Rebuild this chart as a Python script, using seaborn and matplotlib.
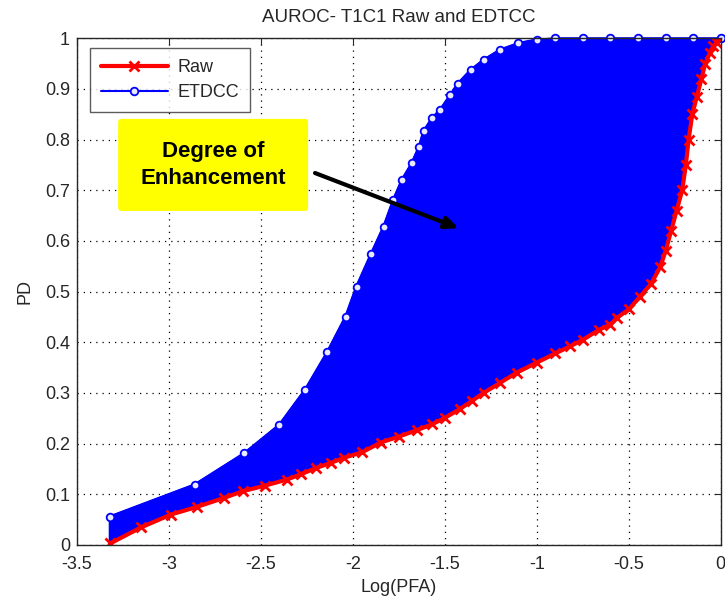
import matplotlib
matplotlib.use("Agg")
import matplotlib.pyplot as plt
import seaborn as sns
import pandas as pd

# ---- data ----
raw_x = [-3.32, -3.15, -2.99, -2.85, -2.70, -2.60, -2.48, -2.36, -2.28, -2.20,
         -2.12, -2.05, -1.95, -1.85, -1.75, -1.65, -1.57, -1.50, -1.42, -1.35,
         -1.29, -1.20, -1.11, -1.00, -0.90, -0.82, -0.75, -0.66, -0.60, -0.566,
         -0.50, -0.44, -0.38, -0.33, -0.30, -0.27, -0.24, -0.21, -0.19, -0.175,
         -0.155, -0.13, -0.105, -0.085, -0.06, -0.04, -0.02, -0.01]
raw_y = [0.003, 0.035, 0.060, 0.075, 0.093, 0.106, 0.117, 0.129, 0.140, 0.152,
         0.162, 0.172, 0.183, 0.202, 0.214, 0.227, 0.238, 0.251, 0.268, 0.285,
         0.300, 0.320, 0.340, 0.360, 0.378, 0.392, 0.405, 0.425, 0.435, 0.448,
         0.465, 0.490, 0.515, 0.548, 0.580, 0.620, 0.660, 0.700, 0.750, 0.800,
         0.850, 0.885, 0.920, 0.950, 0.970, 0.985, 0.990, 1.000]

etdcc_x = [-3.32, -2.86, -2.59, -2.40, -2.26, -2.14, -2.04, -1.98, -1.90, -1.833,
           -1.78, -1.734, -1.68, -1.64, -1.616, -1.57, -1.525, -1.47, -1.43, -1.36,
           -1.29, -1.20, -1.10, -1.00, -0.90, -0.75, -0.60, -0.45, -0.30, -0.15, 0.0]
etdcc_y = [0.056, 0.119, 0.181, 0.237, 0.306, 0.380, 0.450, 0.510, 0.575, 0.628,
           0.681, 0.720, 0.753, 0.786, 0.816, 0.842, 0.859, 0.888, 0.910, 0.937,
           0.957, 0.977, 0.990, 0.997, 1.000, 1.000, 1.000, 1.000, 1.000, 1.000, 1.000]

x_ticks = [-3.5, -3, -2.5, -2, -1.5, -1, -0.5, 0]
x_tick_labels = ["-3.5", "-3", "-2.5", "-2", "-1.5", "-1", "-0.5", "0"]
y_ticks = [0, 0.1, 0.2, 0.3, 0.4, 0.5, 0.6, 0.7, 0.8, 0.9, 1]
y_tick_labels = ["0", "0.1", "0.2", "0.3", "0.4", "0.5", "0.6", "0.7", "0.8", "0.9", "1"]

title = "AUROC- T1C1 Raw and EDTCC"
annot_text = "Degree of\nEnhancement"

# ---- style ----
sns.set_style("white")
plt.rcParams["font.family"] = ["Liberation Sans", "DejaVu Sans"]

fig = plt.figure(figsize=(7.25, 6.04), dpi=100)
ax = fig.add_axes([0.1062, 0.0977, 0.888, 0.839])

blue = "#0000ff"
red = "#ff0000"
txt = "#262626"

# filled area between the family of ETDCC curves and raw
ax.fill(etdcc_x + raw_x[::-1], etdcc_y + raw_y[::-1], color=blue, lw=2,
        ec=blue, zorder=2)

df_raw = pd.DataFrame({"x": raw_x, "y": raw_y})
df_et = pd.DataFrame({"x": etdcc_x, "y": etdcc_y})

sns.lineplot(data=df_et, x="x", y="y", ax=ax, color=blue, lw=1.5, marker="o",
             markersize=5.5, markerfacecolor="#e8e8ff", markeredgecolor=blue,
             markeredgewidth=1.3, sort=False, estimator=None, label="ETDCC",
             zorder=3, clip_on=False)
sns.lineplot(data=df_raw, x="x", y="y", ax=ax, color=red, lw=3, marker="x",
             markersize=7, markeredgecolor=red, markeredgewidth=2,
             sort=False, estimator=None, label="Raw", zorder=4)

ax.set_xlim(-3.5, 0)
ax.set_ylim(0, 1)
ax.set_xticks(x_ticks)
ax.set_xticklabels(x_tick_labels)
ax.set_yticks(y_ticks)
ax.set_yticklabels(y_tick_labels)
ax.tick_params(direction="in", top=True, right=True, length=5, labelsize=13,
               colors=txt, labelcolor=txt)
ax.tick_params(axis="x", pad=8)
ax.tick_params(axis="y", pad=5)
ax.grid(True, linestyle=(0, (1, 4)), color="black", lw=0.9)
for s in ax.spines.values():
    s.set_color(txt)
    s.set_linewidth(1.0)
    s.set_zorder(5)

ax.set_xlabel("Log(PFA)", fontsize=13, color=txt, labelpad=4)
ax.set_ylabel("PD", fontsize=13, color=txt, labelpad=8)
ax.set_title(title, fontsize=13.5, color=txt, pad=12)

handles, labels = ax.get_legend_handles_labels()
order = [labels.index("Raw"), labels.index("ETDCC")]
leg = ax.legend([handles[i] for i in order], [labels[i] for i in order],
                loc="upper left", bbox_to_anchor=(0.020, 0.980), fontsize=13,
                frameon=True, fancybox=False, edgecolor="#333333",
                handlelength=3.7, handletextpad=0.55, borderpad=0.6,
                labelspacing=0.45, borderaxespad=0)
leg.get_frame().set_linewidth(1.0)
leg.set_zorder(6)
for t in leg.get_texts():
    t.set_color(txt)

# annotation box and arrow
ax.text(-2.76, 0.75, annot_text, ha="center", va="center", fontsize=16,
        fontweight="bold", color="black", zorder=6, linespacing=1.35,
        bbox=dict(boxstyle="round,pad=1.0,rounding_size=0.15", fc="#ffff00",
                  ec="none"))
ax.annotate("", xy=(-1.41, 0.623), xytext=(-2.22, 0.736),
            arrowprops=dict(arrowstyle="-|>,head_length=0.8,head_width=0.35",
                            color="black", lw=3), zorder=6)

fig.savefig("out.png", dpi=100)
